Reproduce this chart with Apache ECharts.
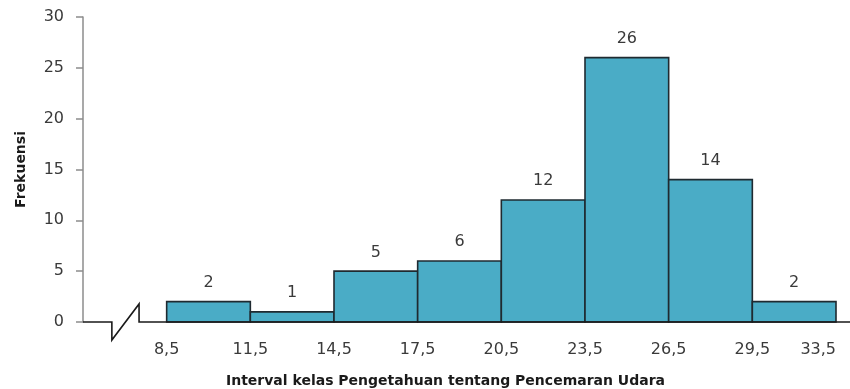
<!DOCTYPE html>
<html>
<head>
<meta charset="utf-8">
<script src="https://cdn.jsdelivr.net/npm/echarts@6/dist/echarts.min.js"></script>
<style>
  html, body { margin: 0; padding: 0; background: #fff; }
  #chart { width: 850px; height: 389px; }
</style>
</head>
<body>
<div id="chart"></div>
<script>
// Class boundaries (edge labels) and frequency of each class
const classEdges = ['8,5', '11,5', '14,5', '17,5', '20,5', '23,5', '26,5', '29,5', '33,5'];
const frequencies = [2, 1, 5, 6, 12, 26, 14, 2];
const yTicks = [0, 5, 10, 15, 20, 25, 30];

const FONT = 'DejaVu Sans, Verdana, sans-serif';
const chart = echarts.init(document.getElementById('chart'), null, { renderer: 'canvas' });

// Each class occupies one unit on the x scale: class i spans [i, i + 1]
const barData = frequencies.map((f, i) => [i, i + 1, f]);

chart.setOption({
  animation: false,
  grid: { left: 83, right: 14, top: 17, bottom: 67, containLabel: false, outerBoundsMode: 'none' },
  xAxis: {
    type: 'value',
    min: -1,
    max: classEdges.length - 1,
    interval: 1,
    splitLine: { show: false },
    axisLine: { show: false },
    axisTick: { show: false },
    axisLabel: {
      margin: 20,
      fontFamily: FONT,
      fontSize: 16,
      color: '#3a3a3a',
      alignMaxLabel: 'right',
      formatter: v => (v >= 0 ? classEdges[v] : '')
    },
    name: 'Interval kelas Pengetahuan tentang Pencemaran Udara',
    nameLocation: 'middle',
    nameGap: 52,
    nameTextStyle: {
      fontFamily: FONT,
      fontSize: 14,
      fontWeight: 'bold',
      color: '#1a1a1a',
      padding: [0, 28, 0, 0]
    }
  },
  yAxis: {
    type: 'value',
    min: yTicks[0],
    max: yTicks[yTicks.length - 1],
    interval: 5,
    splitLine: { show: false },
    axisLine: { show: true, onZero: false, lineStyle: { color: '#8c8c8c', width: 1.5 } },
    axisTick: { show: true, length: 7, lineStyle: { color: '#8c8c8c', width: 1.5 } },
    axisLabel: { margin: 19, fontFamily: FONT, fontSize: 16, color: '#3a3a3a' },
    name: 'Frekuensi',
    nameLocation: 'middle',
    nameGap: 55,
    nameTextStyle: { fontFamily: FONT, fontSize: 14, fontWeight: 'bold', color: '#1a1a1a' }
  },
  series: [{
    type: 'custom',
    data: barData,
    encode: { x: [0, 1], y: 2 },
    renderItem: function (params, api) {
      const p0 = api.coord([api.value(0), 0]);
      const p1 = api.coord([api.value(1), api.value(2)]);
      return {
        type: 'rect',
        shape: { x: p0[0], y: p1[1], width: p1[0] - p0[0], height: p0[1] - p1[1] },
        style: { fill: '#4aacc6', stroke: '#1f2a30', lineWidth: 1.6 },
        textContent: {
          style: {
            text: String(api.value(2)),
            fontFamily: FONT,
            fontSize: 16,
            fill: '#3a3a3a'
          }
        },
        textConfig: { position: 'top', distance: 10 }
      };
    },
    z: 3
  }]
});

// Baseline with the broken-axis zigzag, placed through the chart's own scale
function drawBaseline() {
  const start = chart.convertToPixel({ gridIndex: 0 }, [-1, 0]);
  const breakA = chart.convertToPixel({ gridIndex: 0 }, [-0.655, 0]);
  const breakB = chart.convertToPixel({ gridIndex: 0 }, [-0.33, 0]);
  const y0 = start[1];
  const points = [
    [start[0], y0],
    [breakA[0], y0],
    [breakA[0], y0 + 18],
    [breakB[0], y0 - 18],
    [breakB[0], y0],
    [chart.getWidth(), y0]
  ];
  chart.setOption({
    graphic: [{
      type: 'polyline',
      shape: { points: points },
      style: { stroke: '#1a1a1a', lineWidth: 1.6, fill: null },
      z: 10
    }]
  });
}
drawBaseline();
</script>
</body>
</html>
